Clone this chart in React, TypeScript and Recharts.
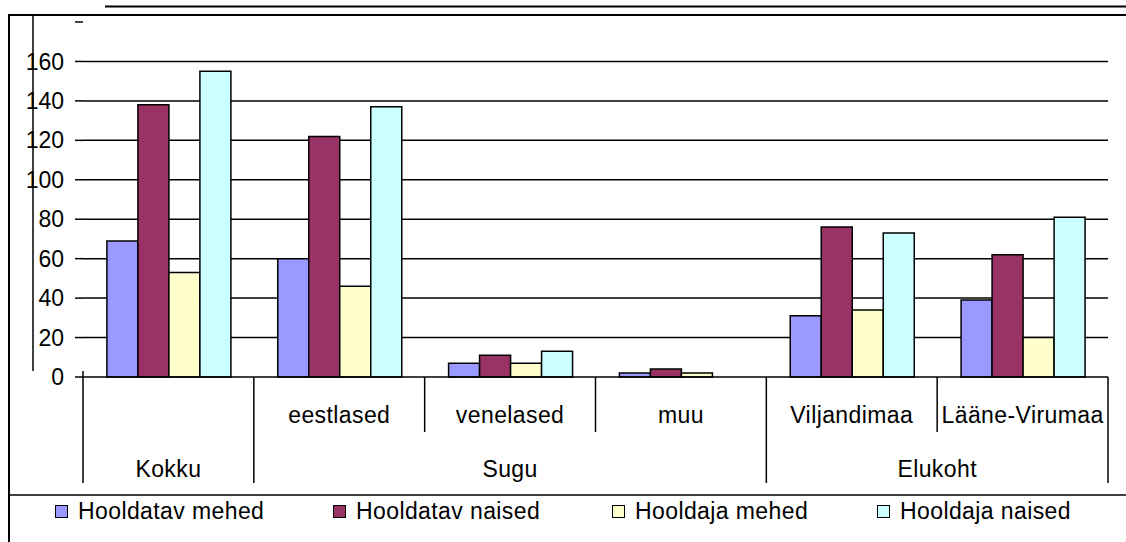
import React from "react";
import { BarChart, Bar, XAxis, YAxis, CartesianGrid, Legend } from "recharts";

const categories = ["", "eestlased", "venelased", "muu", "Viljandimaa", "Lääne-Virumaa"];
const groups = ["Kokku", "Sugu", "Sugu", "Sugu", "Elukoht", "Elukoht"];
const hooldatavMehed = [69, 60, 7, 2, 31, 39];
const hooldatavNaised = [138, 122, 11, 4, 76, 62];
const hooldajaMehed = [53, 46, 7, 2, 34, 20];
const hooldajaNaised = [155, 137, 13, 0, 73, 81];
const yTicks = [0, 20, 40, 60, 80, 100, 120, 140, 160, 180];
const gridValues = [20, 40, 60, 80, 100, 120, 140, 160];

const seriesNames = ["Hooldatav mehed", "Hooldatav naised", "Hooldaja mehed", "Hooldaja naised"];
const seriesColors = ["#9999FF", "#993366", "#FFFFCC", "#CCFFFF"];

const data = categories.map((c, i) => ({
  name: c,
  a: hooldatavMehed[i],
  b: hooldatavNaised[i],
  c: hooldajaMehed[i],
  d: hooldajaNaised[i],
}));

const FONT = "'Liberation Sans', Arial, sans-serif";
const LEGEND_X = [55, 333, 612, 877];
const LS = "0.4px";

const CatTick = (props: any) => {
  const { x, y, payload } = props;
  const i: number = payload.index ?? props.index;
  const half: number = payload.offset ?? 0;
  const left = x - half;
  const right = x + half;
  const isGroupStart = i === 0 || groups[i] !== groups[i - 1];
  const isLast = i === categories.length - 1;
  const n = groups.filter((g) => g === groups[i]).length;
  return (
    <g>
      <line
        x1={left}
        x2={left}
        y1={i === 0 ? y - 6 : y}
        y2={y + (isGroupStart ? 106 : 55)}
        stroke="#000"
        strokeWidth={1.5}
      />
      {isLast && <line x1={right} x2={right} y1={y} y2={y + 106} stroke="#000" strokeWidth={1.5} />}
      <text x={x} y={y + 46} textAnchor="middle" fontSize={23} fontFamily={FONT} fill="#000" style={{ letterSpacing: LS }}>
        {categories[i]}
      </text>
      {isGroupStart && (
        <text x={left + n * half} y={y + 100} textAnchor="middle" fontSize={23} fontFamily={FONT} fill="#000" style={{ letterSpacing: LS }}>
          {groups[i]}
        </text>
      )}
    </g>
  );
};

const LegendContent = (props: any) => {
  const payload: any[] = props.payload ?? [];
  const items = seriesNames.map((name, i) => {
    const found = payload.find((p) => p.value === name);
    return { value: name, color: found?.color ?? seriesColors[i] };
  });
  return (
    <div style={{ position: "relative", width: 1126, height: 47, fontFamily: FONT }}>
      {items.map((it, i) => (
        <div
          key={i}
          style={{
            position: "absolute",
            left: LEGEND_X[i],
            top: 3,
            height: 26,
            display: "flex",
            alignItems: "center",
            whiteSpace: "nowrap",
          }}
        >
          <span
            style={{
              display: "inline-block",
              width: 11,
              height: 11,
              background: it.color,
              border: "1px solid #000",
            }}
          />
          <span style={{ marginLeft: 10, fontSize: 23, lineHeight: "26px", color: "#000", letterSpacing: LS }}>{it.value}</span>
        </div>
      ))}
    </div>
  );
};

export default function App() {
  return (
    <div style={{ position: "absolute", left: 0, top: 0, width: 1126, height: 542, background: "#fff" }}>
      <BarChart
        width={1126}
        height={542}
        data={data}
        margin={{ top: 22, right: 18, bottom: 55, left: 0 }}
        barCategoryGap="14%"
        barGap={0}
      >
        <CartesianGrid vertical={false} horizontalValues={gridValues} stroke="#000" strokeWidth={1.5} />
        <XAxis
          dataKey="name"
          interval={0}
          height={110}
          tickSize={0}
          tickMargin={0}
          tickLine={false}
          axisLine={{ stroke: "#000", strokeWidth: 1.5 }}
          tick={<CatTick />}
        />
        <YAxis
          width={83}
          domain={[0, 180]}
          ticks={yTicks}
          interval={0}
          axisLine={false}
          tickSize={8}
          tickMargin={11}
          tickLine={{ stroke: "#000", strokeWidth: 1.5 }}
          tickFormatter={(v: number) => (v === 180 ? "" : String(v))}
          tick={{ fill: "#000", fontSize: 23, fontFamily: FONT }}
        />
        <Bar dataKey="a" name={seriesNames[0]} fill={seriesColors[0]} stroke="#000" strokeWidth={1.5} isAnimationActive={false} />
        <Bar dataKey="b" name={seriesNames[1]} fill={seriesColors[1]} stroke="#000" strokeWidth={1.5} isAnimationActive={false} />
        <Bar dataKey="c" name={seriesNames[2]} fill={seriesColors[2]} stroke="#000" strokeWidth={1.5} isAnimationActive={false} />
        <Bar dataKey="d" name={seriesNames[3]} fill={seriesColors[3]} stroke="#000" strokeWidth={1.5} isAnimationActive={false} />
        <Legend
          layout="vertical"
          align="center"
          verticalAlign="middle"
          wrapperStyle={{ left: 0, top: 495, width: 1126, height: 47 }}
          content={<LegendContent />}
        />
      </BarChart>
      <svg
        width={1126}
        height={542}
        style={{ position: "absolute", left: 0, top: 0, pointerEvents: "none" }}
      >
        <line x1={105} x2={1126} y1={6.5} y2={6.5} stroke="#000" strokeWidth={2} />
        <line x1={8} x2={1126} y1={15} y2={15} stroke="#000" strokeWidth={2} />
        <line x1={9} x2={9} y1={14} y2={542} stroke="#000" strokeWidth={2} />
        <line x1={33} x2={33} y1={15} y2={371} stroke="#000" strokeWidth={1.5} />
        <line x1={8} x2={1126} y1={495} y2={495} stroke="#000" strokeWidth={1.5} />
      </svg>
    </div>
  );
}
